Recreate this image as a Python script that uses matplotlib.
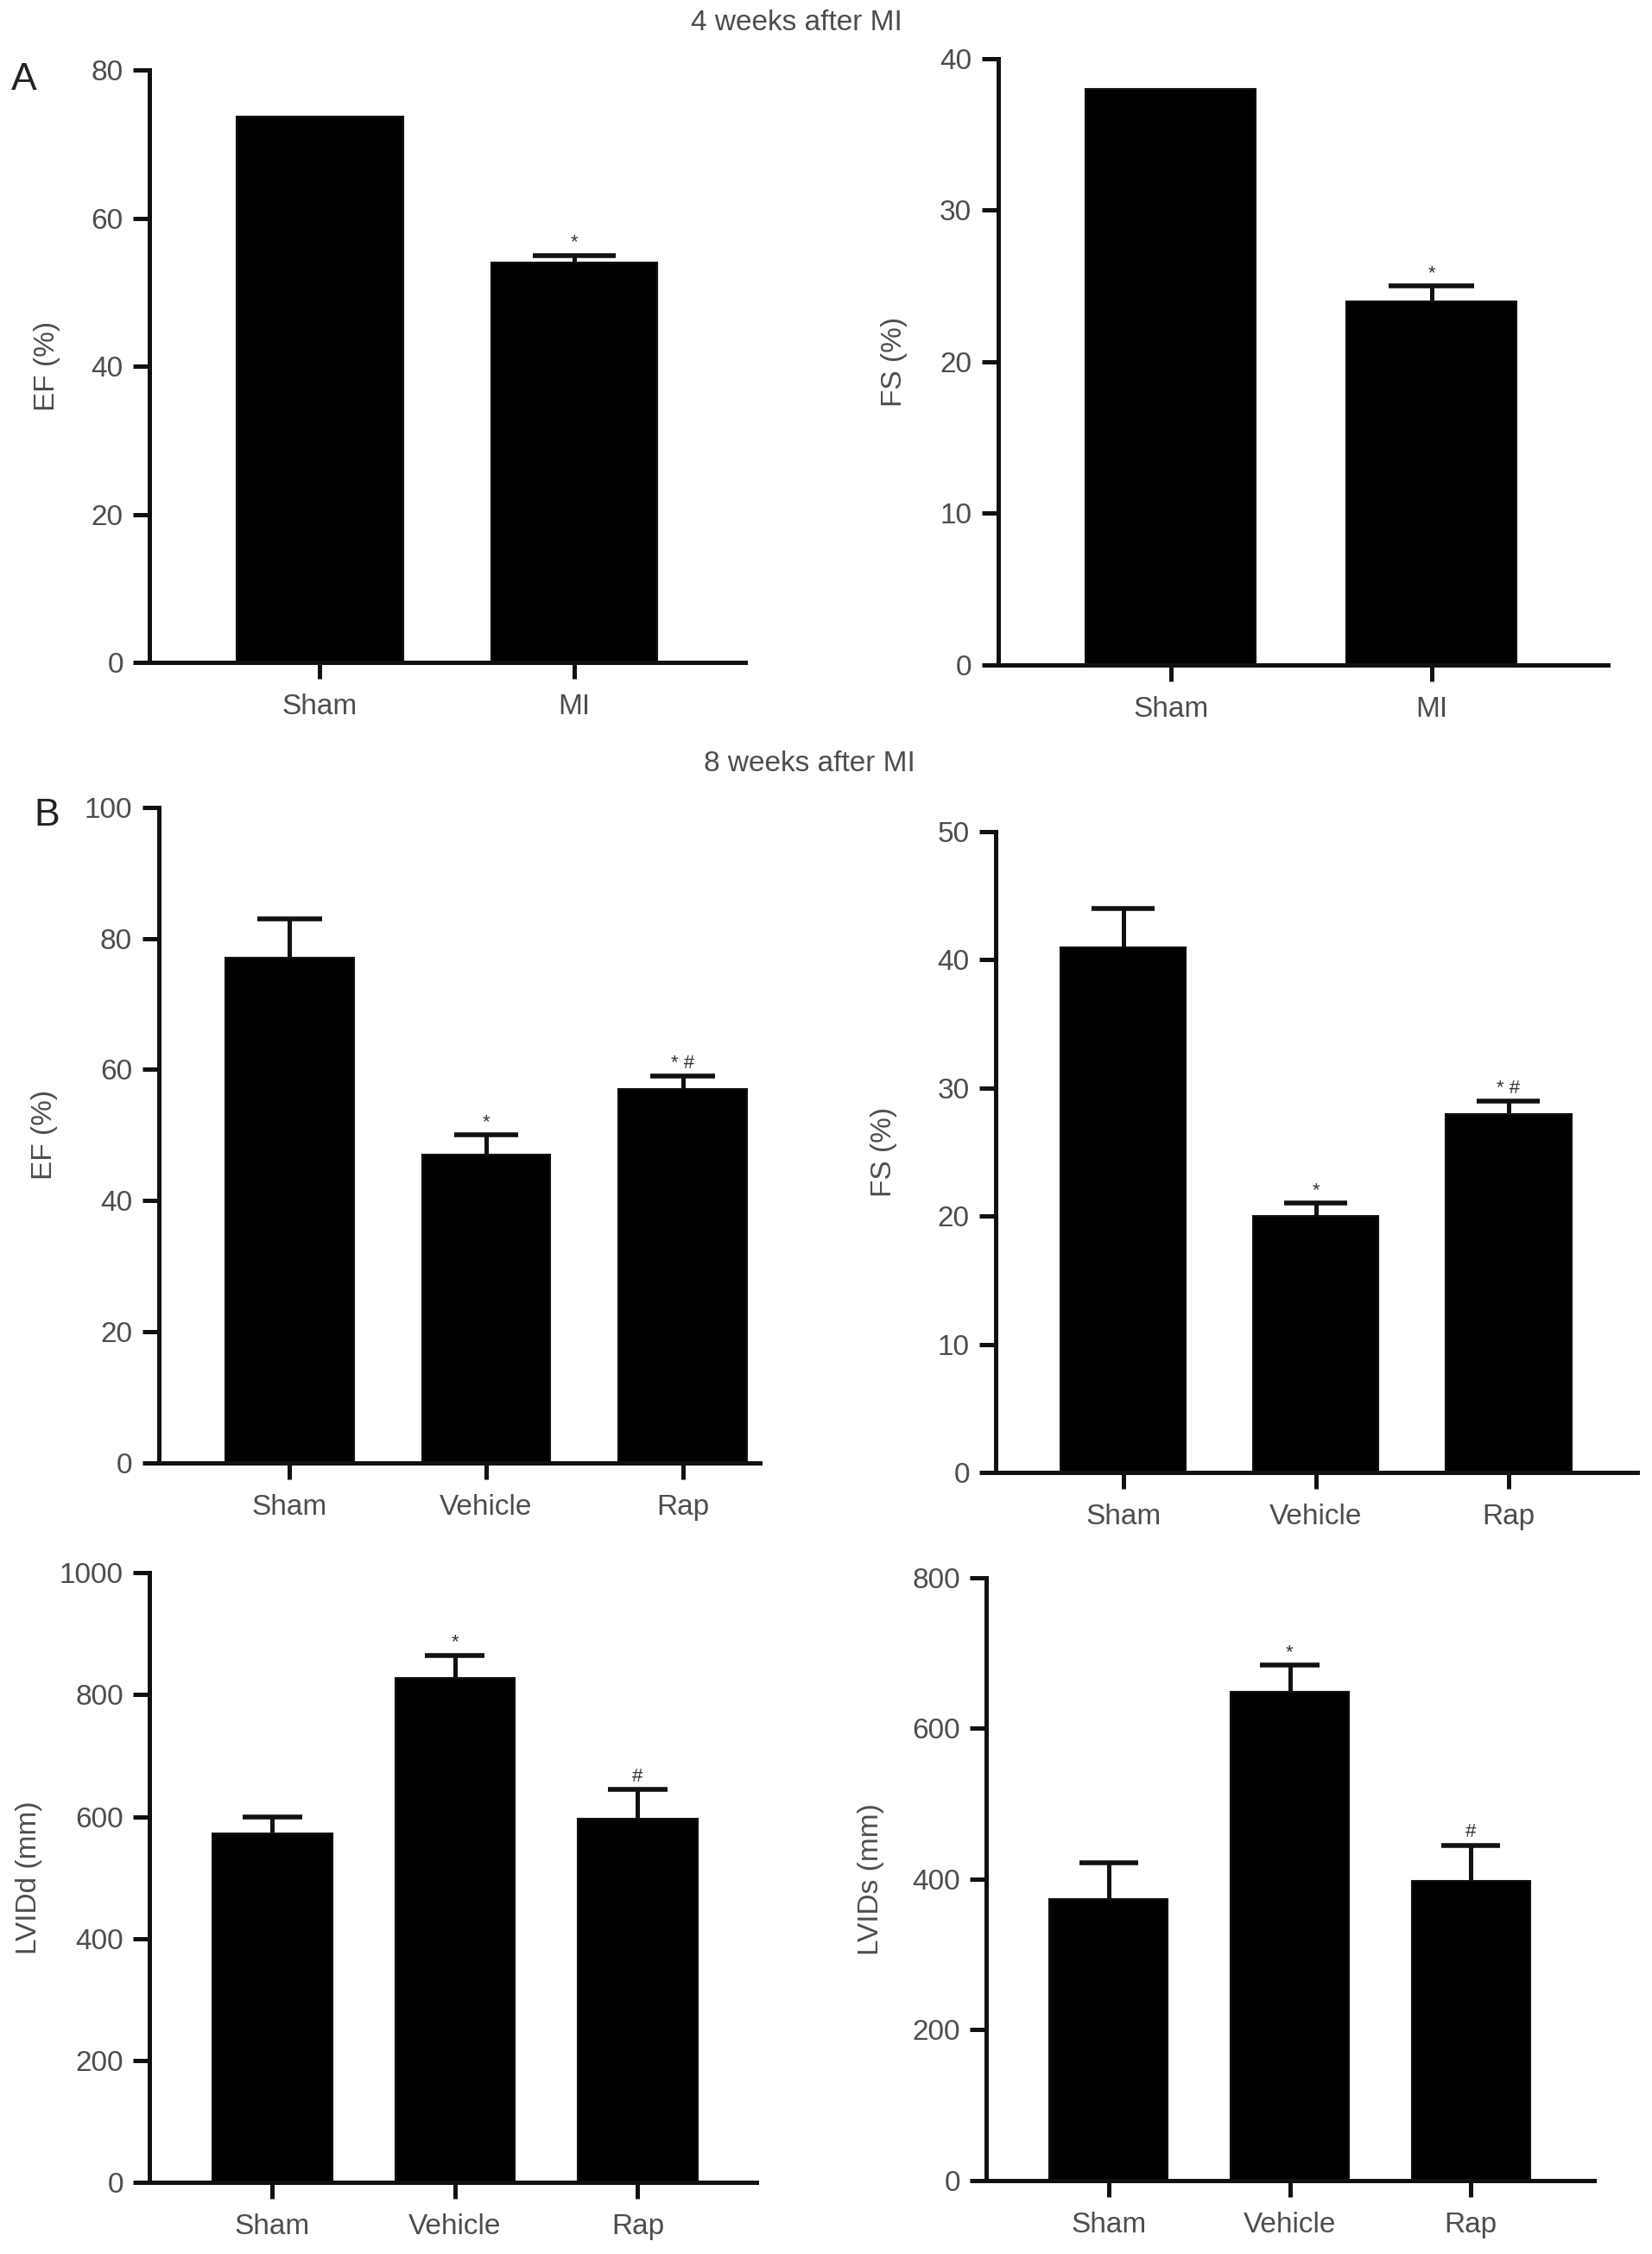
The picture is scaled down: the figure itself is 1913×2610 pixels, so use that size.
import matplotlib
matplotlib.use("Agg")
import matplotlib.pyplot as plt

plt.rcParams['font.family'] = ['Liberation Sans', 'DejaVu Sans']

# ---- data ----
groups_4w = ["Sham", "MI"]
ef_4w = [73.7, 54.0]
ef_4w_err = [0.0, 1.0]
ef_4w_marks = ["", "*"]
fs_4w = [38.0, 24.0]
fs_4w_err = [0.0, 1.0]
fs_4w_marks = ["", "*"]

groups_8w = ["Sham", "Vehicle", "Rap"]
ef_8w = [77.0, 47.0, 57.0]
ef_8w_err = [6.0, 3.0, 2.0]
ef_8w_marks = ["", "*", "* #"]
fs_8w = [41.0, 20.0, 28.0]
fs_8w_err = [3.0, 1.0, 1.0]
fs_8w_marks = ["", "*", "* #"]
lvidd = [572, 828, 597]
lvidd_err = [27, 37, 48]
lvidd_marks = ["", "*", "#"]
lvids = [373, 648, 398]
lvids_err = [49, 36, 47]
lvids_marks = ["", "*", "#"]

TXT = "#4d4d4d"
INK = "#111111"


def bar_panel(rect, groups, vals, errs, marks, ylabel, ymax, ystep, xlim, labelx):
    ax = fig.add_axes(rect)
    x = list(range(len(groups)))
    w = 0.653
    ax.bar(x, vals, width=w, color="black", edgecolor=INK, linewidth=1.5, zorder=2)
    for xi, v, e, m in zip(x, vals, errs, marks):
        if e > 0:
            ax.vlines(xi, v, v + e, color=INK, linewidth=3.6, zorder=3)
            ax.hlines(v + e, xi - w * 0.25, xi + w * 0.25, color=INK, linewidth=4.0, zorder=3)
        if m:
            ax.annotate(m, (xi, v + e), xytext=(0, 3), textcoords="offset points",
                        ha="center", va="bottom", fontsize=16, color="#333333")
    ax.set_xlim(*xlim)
    ax.set_ylim(0, ymax)
    ax.set_yticks(range(0, ymax + 1, ystep))
    ax.set_xticks(x)
    ax.set_xticklabels(groups)
    for s in ["top", "right"]:
        ax.spines[s].set_visible(False)
    for s in ["left", "bottom"]:
        ax.spines[s].set_linewidth(3.6)
        ax.spines[s].set_color(INK)
    ax.tick_params(axis="both", direction="out", length=14, width=3.6, color=INK,
                   labelsize=24, labelcolor=TXT)
    ax.tick_params(axis="x", pad=12)
    ax.tick_params(axis="y", pad=8)
    ax.set_ylabel(ylabel, fontsize=24, color=TXT)
    ax.yaxis.set_label_coords(labelx, 0.5)
    return ax


fig = plt.figure(figsize=(19.13, 26.10), dpi=100)

bar_panel([0.0906, 0.7061, 0.3607, 0.2627], groups_4w, ef_4w, ef_4w_err, ef_4w_marks,
          "EF (%)", 80, 20, (-0.670, 1.675), -0.150)
bar_panel([0.6041, 0.7050, 0.3690, 0.2690], groups_4w, fs_4w, fs_4w_err, fs_4w_marks,
          "FS (%)", 40, 10, (-0.664, 1.676), -0.148)
bar_panel([0.0960, 0.3510, 0.3640, 0.2908], groups_8w, ef_8w, ef_8w_err, ef_8w_marks,
          "EF (%)", 100, 20, (-0.667, 2.393), -0.168)
bar_panel([0.6029, 0.3467, 0.3882, 0.2843], groups_8w, fs_8w, fs_8w_err, fs_8w_marks,
          "FS (%)", 50, 10, (-0.660, 2.669), -0.154)
bar_panel([0.0906, 0.0318, 0.3673, 0.2704], groups_8w, lvidd, lvidd_err, lvidd_marks,
          "LVIDd (mm)", 1000, 200, (-0.672, 2.650), -0.177)
bar_panel([0.5972, 0.0326, 0.3678, 0.2675], groups_8w, lvids, lvids_err, lvids_marks,
          "LVIDs (mm)", 800, 200, (-0.674, 2.681), -0.168)

fig.text(0.482, 0.9897, "4 weeks after MI", ha="center", va="center", fontsize=24, color=TXT)
fig.text(0.490, 0.6613, "8 weeks after MI", ha="center", va="center", fontsize=24, color=TXT)
fig.text(0.0144, 0.9647, "A", ha="center", va="center", fontsize=32, color="#222222")
fig.text(0.0282, 0.6380, "B", ha="center", va="center", fontsize=32, color="#222222")

fig.savefig("out.png", dpi=100, facecolor="white")
